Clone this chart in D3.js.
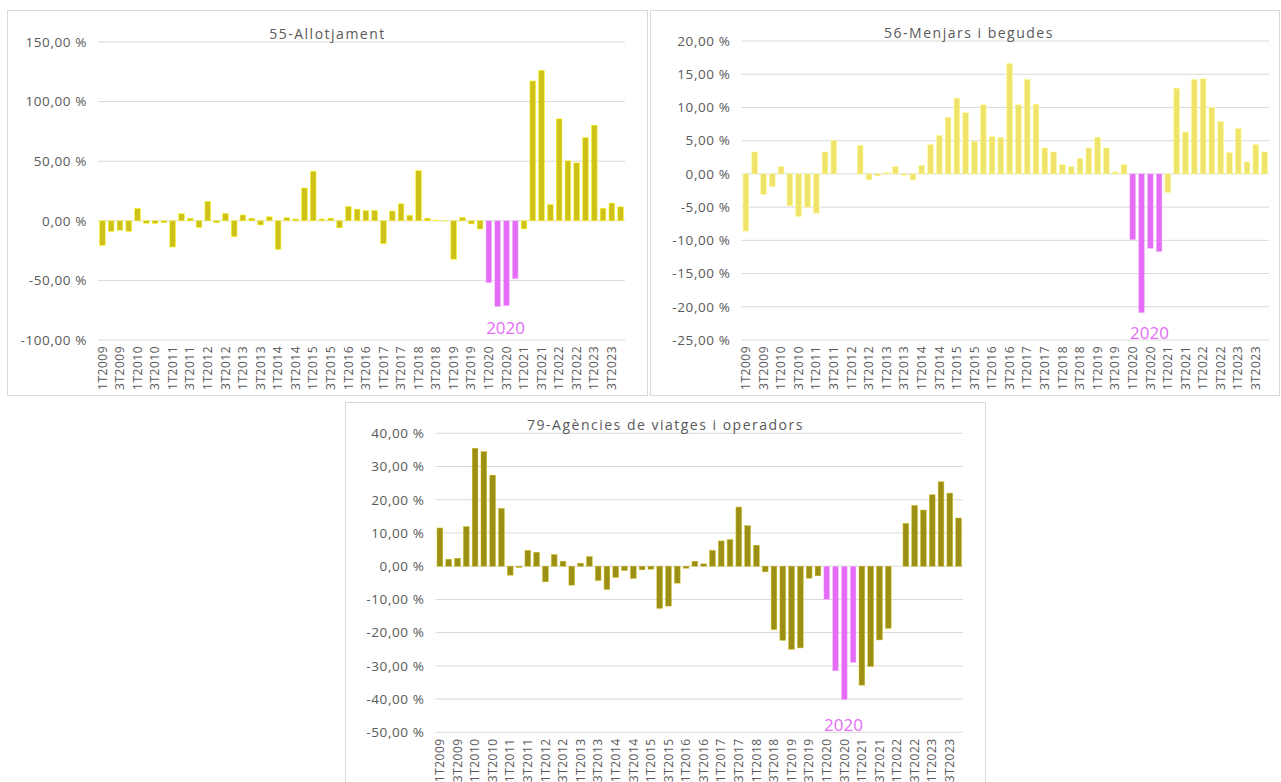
<!DOCTYPE html>
<html>
<head>
<meta charset="utf-8">
<script src="https://cdn.jsdelivr.net/npm/d3@7"></script>
<style>
  body { margin: 0; background: #fff; }
  text { font-family: "Open Sans", "Noto Sans", sans-serif; fill: #595959; }
</style>
</head>
<body>
<div id="chart"></div>
<script>
// quarters 1T2009 .. 4T2023
const quarters = [
  "1T2009","2T2009","3T2009","4T2009","1T2010","2T2010","3T2010","4T2010",
  "1T2011","2T2011","3T2011","4T2011","1T2012","2T2012","3T2012","4T2012",
  "1T2013","2T2013","3T2013","4T2013","1T2014","2T2014","3T2014","4T2014",
  "1T2015","2T2015","3T2015","4T2015","1T2016","2T2016","3T2016","4T2016",
  "1T2017","2T2017","3T2017","4T2017","1T2018","2T2018","3T2018","4T2018",
  "1T2019","2T2019","3T2019","4T2019","1T2020","2T2020","3T2020","4T2020",
  "1T2021","2T2021","3T2021","4T2021","1T2022","2T2022","3T2022","4T2022",
  "1T2023","2T2023","3T2023","4T2023"
];
// quarters drawn in magenta
const highlight = ["1T2020","2T2020","3T2020","4T2020"];

const allotjament = [
  -20.6, -8.9, -7.9, -8.9, 10.4, -2.1, -2.3, -1.6,
  -22.0, 6.0, 2.1, -5.6, 16.3, -1.6, 6.3, -13.4,
  4.9, 2.2, -3.5, 3.4, -24.0, 2.6, 1.5, 27.5,
  41.6, 1.5, 2.2, -5.9, 12.0, 9.8, 8.6, 8.8,
  -19.3, 8.2, 14.3, 4.7, 42.2, 2.2, 0.6, -0.2,
  -32.3, 2.8, -2.6, -6.9, -52.0, -72.0, -71.2, -48.6,
  -6.8, 117.3, 126.3, 13.7, 85.5, 50.3, 48.6, 69.8,
  80.2, 10.6, 14.9, 11.7
];
const menjars = [
  -8.6, 3.3, -3.1, -1.9, 1.1, -4.8, -6.4, -5.0,
  -5.9, 3.3, 5.0, 0, 0, 4.3, -0.9, -0.3,
  0.2, 1.1, -0.2, -0.9, 1.3, 4.4, 5.8, 8.5,
  11.4, 9.2, 4.9, 10.4, 5.6, 5.5, 16.6, 10.4,
  14.2, 10.5, 3.9, 3.3, 1.4, 1.1, 2.3, 3.9,
  5.5, 3.9, 0.3, 1.4, -9.9, -20.9, -11.2, -11.7,
  -2.8, 12.9, 6.3, 14.2, 14.3, 10.0, 7.9, 3.2,
  6.8, 1.8, 4.4, 3.3
];
const agencies = [
  11.5, 2.1, 2.4, 11.9, 35.5, 34.5, 27.4, 17.4,
  -2.7, -0.4, 4.8, 4.2, -4.7, 3.5, 1.5, -5.7,
  0.9, 2.9, -4.3, -7.0, -3.4, -1.3, -3.7, -1.1,
  -0.9, -12.7, -12.0, -5.1, -0.6, 1.5, 0.7, 4.8,
  7.6, 8.0, 17.8, 12.2, 6.3, -1.7, -19.1, -22.3,
  -25.0, -24.6, -3.6, -2.9, -10.0, -31.5, -40.2, -29.0,
  -35.8, -30.2, -22.2, -18.7, 0, 12.9, 18.3, 16.9,
  21.5, 25.4, 22.0, 14.5
];

const ticksAllotjament = [-100, -50, 0, 50, 100, 150];
const ticksMenjars = [-25, -20, -15, -10, -5, 0, 5, 10, 15, 20];
const ticksAgencies = [-50, -40, -30, -20, -10, 0, 10, 20, 30, 40];

const titles = ["55-Allotjament", "56-Menjars i begudes", "79-Agències de viatges i operadors"];
const label2020 = "2020";

const magenta = "#E46CF6";

const panels = [
  {title: titles[0], values: allotjament, ticks: ticksAllotjament, fill: "#CEC11A",
   box: [7.5, 10.5, 640, 385], x0: 98, x1: 625, yTop: 42, yBot: 340, labelDy: -6, titleDx: 0},
  {title: titles[1], values: menjars, ticks: ticksMenjars, fill: "#F0E36C",
   box: [650.5, 10.5, 629, 385], x0: 741.5, x1: 1269, yTop: 41, yBot: 340, labelDy: -1, titleDx: 4},
  {title: titles[2], values: agencies, ticks: ticksAgencies, fill: "#9B8F15",
   box: [345.5, 402.5, 640, 390], x0: 435.5, x1: 963, yTop: 433.3, yBot: 732.3, labelDy: -1, titleDx: 0}
];

const svg = d3.select("#chart").append("svg")
  .attr("width", 1281)
  .attr("height", 782);

const fmt = d => d.toFixed(2).replace(".", ",") + " %";

panels.forEach(p => {
  const g = svg.append("g");

  g.append("rect")
    .attr("x", p.box[0]).attr("y", p.box[1])
    .attr("width", p.box[2]).attr("height", p.box[3])
    .attr("fill", "#fff")
    .attr("stroke", "#D9D9D9");

  const x = d3.scaleBand()
    .domain(quarters)
    .range([p.x0, p.x1])
    .paddingInner(0.35)
    .paddingOuter(0.175);

  const y = d3.scaleLinear()
    .domain(d3.extent(p.ticks))
    .range([p.yBot, p.yTop]);

  // gridlines
  g.append("g")
    .selectAll("line")
    .data(p.ticks)
    .enter().append("line")
    .attr("x1", p.x0).attr("x2", p.x1)
    .attr("y1", d => y(d)).attr("y2", d => y(d))
    .attr("stroke", "#D9D9D9")
    .attr("stroke-width", 1);

  // y axis labels
  const yAxis = d3.axisLeft(y)
    .tickValues(p.ticks)
    .tickFormat(fmt)
    .tickSize(0)
    .tickPadding(11);
  const ya = g.append("g")
    .attr("transform", "translate(" + p.x0 + ",0)")
    .call(yAxis);
  ya.select(".domain").remove();
  ya.selectAll("text")
    .style("font-size", "13.5px")
    .style("letter-spacing", "0.6px")
    .attr("fill", "#595959");

  // x axis labels, every other quarter
  const xAxis = d3.axisBottom(x)
    .tickValues(quarters.filter((q, i) => i % 2 == 0))
    .tickSize(0);
  const xa = g.append("g")
    .attr("transform", "translate(0," + p.yBot + ")")
    .call(xAxis);
  xa.select(".domain").remove();
  xa.selectAll("text")
    .attr("transform", "rotate(-90)")
    .attr("text-anchor", "end")
    .attr("x", -6)
    .attr("y", 0)
    .attr("dy", "0.35em")
    .style("font-size", "12px")
    .style("letter-spacing", "0.5px")
    .attr("fill", "#595959");

  // bars
  g.append("g")
    .selectAll("rect")
    .data(p.values.map((v, i) => ({q: quarters[i], v: v})))
    .enter().append("rect")
    .attr("x", d => x(d.q))
    .attr("width", x.bandwidth())
    .attr("y", d => y(Math.max(0, d.v)))
    .attr("height", d => Math.abs(y(d.v) - y(0)))
    .attr("fill", d => highlight.includes(d.q) ? magenta : p.fill)
    .attr("stroke", d => highlight.includes(d.q) ? "#F3C0FA" : d3.color(p.fill).brighter(0.8))
    .attr("stroke-width", 0.5);

  // title
  g.append("text")
    .attr("x", p.box[0] + p.box[2] / 2 + p.titleDx)
    .attr("y", p.yTop - 3)
    .attr("text-anchor", "middle")
    .style("font-size", "14px")
    .style("letter-spacing", "1.5px")
    .text(p.title);

  // 2020 label
  g.append("text")
    .attr("x", x(highlight[2]) + 2)
    .attr("y", p.yBot + p.labelDy)
    .attr("text-anchor", "middle")
    .style("font-size", "17px")
    .style("fill", magenta)
    .text(label2020);
});
</script>
</body>
</html>
